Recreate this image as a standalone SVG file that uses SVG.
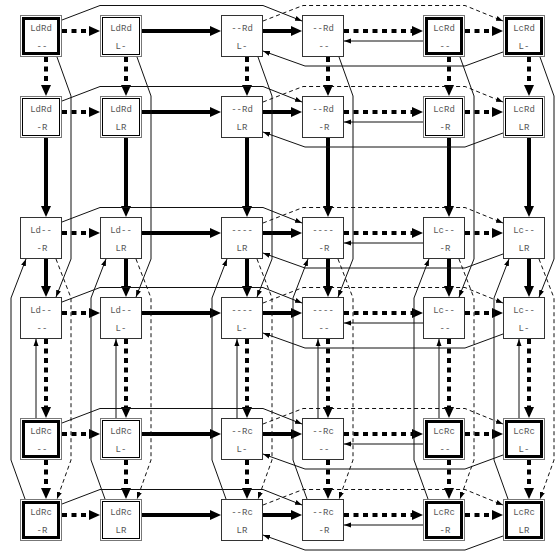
<svg xmlns="http://www.w3.org/2000/svg" width="560" height="551" viewBox="0 0 560 551">
<style>
.bg{fill:#fff}
.s{fill:#fff;stroke:#333;stroke-width:1}
.o{fill:#fff;stroke:#777;stroke-width:1}
.i1{fill:none;stroke:#000;stroke-width:1}
.i3{fill:none;stroke:#000;stroke-width:3}
.t{font-family:"Liberation Mono","Courier New",monospace;font-size:9px;fill:#555;text-anchor:middle}
.th{fill:none;stroke:#000;stroke-width:4;marker-end:url(#ah)}
.dt{fill:none;stroke:#000;stroke-width:4;stroke-dasharray:5 4.5;marker-end:url(#ah)}
.ln{fill:none;stroke:#111;stroke-width:1;marker-end:url(#as)}
.ds{fill:none;stroke:#111;stroke-width:1;stroke-dasharray:4 3;marker-end:url(#as)}
</style>
<defs>
<marker id="ah" markerUnits="userSpaceOnUse" markerWidth="11" markerHeight="10" refX="0" refY="5" orient="auto"><path d="M0,0 L11,5 L0,10 z" fill="#000"/></marker>
<marker id="as" markerUnits="userSpaceOnUse" markerWidth="7" markerHeight="6" refX="7" refY="3" orient="auto"><path d="M0,0.5 L7,3 L0,5.5 z" fill="#000"/></marker>
</defs>
<rect class="bg" x="0" y="0" width="560" height="551"/>
<g id="connectors">
<path class="dt" d="M62,31 H89"/><path class="th" d="M142,31 H210"/><path class="th" d="M263,31 H291"/><path class="dt" d="M344,31 H412"/><path class="dt" d="M465,31 H492"/>
<path class="dt" d="M62,112 H89"/><path class="th" d="M142,112 H210"/><path class="th" d="M263,112 H291"/><path class="dt" d="M344,112 H412"/><path class="dt" d="M465,112 H492"/>
<path class="dt" d="M62,233 H89"/><path class="th" d="M142,233 H210"/><path class="th" d="M263,233 H291"/><path class="dt" d="M344,233 H412"/><path class="dt" d="M465,233 H492"/>
<path class="dt" d="M62,313 H89"/><path class="th" d="M142,313 H210"/><path class="th" d="M263,313 H291"/><path class="dt" d="M344,313 H412"/><path class="dt" d="M465,313 H492"/>
<path class="dt" d="M62,434 H89"/><path class="th" d="M142,434 H210"/><path class="th" d="M263,434 H291"/><path class="dt" d="M344,434 H412"/><path class="dt" d="M465,434 H492"/>
<path class="dt" d="M62,515 H89"/><path class="th" d="M142,515 H210"/><path class="th" d="M263,515 H291"/><path class="dt" d="M344,515 H412"/><path class="dt" d="M465,515 H492"/>
<path class="dt" d="M46,57 V85"/><path class="th" d="M46,138 V206"/><path class="th" d="M46,259 V286"/><path class="dt" d="M46,339 V407"/><path class="dt" d="M46,460 V488"/>
<path class="dt" d="M126,57 V85"/><path class="th" d="M126,138 V206"/><path class="th" d="M126,259 V286"/><path class="dt" d="M126,339 V407"/><path class="dt" d="M126,460 V488"/>
<path class="dt" d="M247,57 V85"/><path class="th" d="M247,138 V206"/><path class="th" d="M247,259 V286"/><path class="dt" d="M247,339 V407"/><path class="dt" d="M247,460 V488"/>
<path class="dt" d="M328,57 V85"/><path class="th" d="M328,138 V206"/><path class="th" d="M328,259 V286"/><path class="dt" d="M328,339 V407"/><path class="dt" d="M328,460 V488"/>
<path class="dt" d="M449,57 V85"/><path class="th" d="M449,138 V206"/><path class="th" d="M449,259 V286"/><path class="dt" d="M449,339 V407"/><path class="dt" d="M449,460 V488"/>
<path class="dt" d="M529,57 V85"/><path class="th" d="M529,138 V206"/><path class="th" d="M529,259 V286"/><path class="dt" d="M529,339 V407"/><path class="dt" d="M529,460 V488"/>
<path class="ln" d="M423,41 H344"/><path class="ln" d="M423,122 H344"/><path class="ln" d="M423,243 H344"/><path class="ln" d="M423,323 H344"/><path class="ln" d="M423,444 H344"/><path class="ln" d="M423,525 H344"/>
<path class="ln" d="M36,418 V339"/><path class="ln" d="M116,418 V339"/><path class="ln" d="M237,418 V339"/><path class="ln" d="M318,418 V339"/><path class="ln" d="M439,418 V339"/><path class="ln" d="M519,418 V339"/>
<path class="ln" d="M62,20 L100,5.5 L263,5.5 L302,21"/>
<path class="ln" d="M62,101 L100,86.5 L263,86.5 L302,102"/>
<path class="ln" d="M62,222 L100,207.5 L263,207.5 L302,223"/>
<path class="ln" d="M62,302 L100,287.5 L263,287.5 L302,303"/>
<path class="ln" d="M62,423 L100,408.5 L263,408.5 L302,424"/>
<path class="ln" d="M62,504 L100,489.5 L263,489.5 L302,505"/>
<path class="ds" d="M263,21 L303,5.5 L465,5.5 L503,21"/>
<path class="ds" d="M263,102 L303,86.5 L465,86.5 L503,102"/>
<path class="ds" d="M263,223 L303,207.5 L465,207.5 L503,223"/>
<path class="ds" d="M263,303 L303,287.5 L465,287.5 L503,303"/>
<path class="ds" d="M263,424 L303,408.5 L465,408.5 L503,424"/>
<path class="ds" d="M263,505 L303,489.5 L465,489.5 L503,505"/>
<path class="ln" d="M503,52 L465,66 L305,66 L263,51"/>
<path class="ln" d="M503,133 L465,147 L305,147 L263,132"/>
<path class="ln" d="M503,254 L465,268 L305,268 L263,253"/>
<path class="ln" d="M503,334 L465,348 L305,348 L263,333"/>
<path class="ln" d="M503,455 L465,469 L305,469 L263,454"/>
<path class="ln" d="M503,536 L465,550 L305,550 L263,535"/>
<path class="ln" d="M57,57 L71,96 L71,259 L56,297"/>
<path class="ln" d="M137,57 L151,96 L151,259 L136,297"/>
<path class="ln" d="M258,57 L272,96 L272,259 L257,297"/>
<path class="ln" d="M339,57 L353,96 L353,259 L338,297"/>
<path class="ln" d="M460,57 L474,96 L474,259 L459,297"/>
<path class="ln" d="M540,57 L554,96 L554,259 L539,297"/>
<path class="ds" d="M56,259 L71,298 L71,460 L57,499"/>
<path class="ds" d="M136,259 L151,298 L151,460 L137,499"/>
<path class="ds" d="M257,259 L272,298 L272,460 L258,499"/>
<path class="ds" d="M338,259 L353,298 L353,460 L339,499"/>
<path class="ds" d="M459,259 L474,298 L474,460 L460,499"/>
<path class="ds" d="M539,259 L554,298 L554,460 L540,499"/>
<path class="ln" d="M25,499 L11,460 L11,298 L26,259"/>
<path class="ln" d="M105,499 L91,460 L91,298 L106,259"/>
<path class="ln" d="M226,499 L212,460 L212,298 L227,259"/>
<path class="ln" d="M307,499 L293,460 L293,298 L308,259"/>
<path class="ln" d="M428,499 L414,460 L414,298 L429,259"/>
<path class="ln" d="M508,499 L494,460 L494,298 L509,259"/>
</g>
<g id="n00"><rect class="o" x="20.5" y="15.5" width="41" height="41"/><rect class="i3" x="23.5" y="18.5" width="35" height="35"/><text class="t" x="41" y="31">LdRd</text><text class="t" x="42" y="49">--</text></g>
<g id="n01"><rect class="o" x="100.5" y="15.5" width="41" height="41"/><rect class="i1" x="102.5" y="17.5" width="37" height="37"/><text class="t" x="121" y="31">LdRd</text><text class="t" x="121" y="49">L-</text></g>
<g id="n02"><rect class="s" x="221.5" y="15.5" width="41" height="41"/><text class="t" x="242" y="31">--Rd</text><text class="t" x="242" y="49">L-</text></g>
<g id="n03"><rect class="s" x="302.5" y="15.5" width="41" height="41"/><text class="t" x="323" y="31">--Rd</text><text class="t" x="324" y="49">--</text></g>
<g id="n04"><rect class="o" x="423.5" y="15.5" width="41" height="41"/><rect class="i3" x="426.5" y="18.5" width="35" height="35"/><text class="t" x="444" y="31">LcRd</text><text class="t" x="445" y="49">--</text></g>
<g id="n05"><rect class="o" x="503.5" y="15.5" width="41" height="41"/><rect class="i3" x="506.5" y="18.5" width="35" height="35"/><text class="t" x="524" y="31">LcRd</text><text class="t" x="524" y="49">L-</text></g>
<g id="n10"><rect class="o" x="20.5" y="96.5" width="41" height="41"/><rect class="i1" x="22.5" y="98.5" width="37" height="37"/><text class="t" x="41" y="112">LdRd</text><text class="t" x="42" y="130">-R</text></g>
<g id="n11"><rect class="o" x="100.5" y="96.5" width="41" height="41"/><rect class="i1" x="102.5" y="98.5" width="37" height="37"/><text class="t" x="121" y="112">LdRd</text><text class="t" x="121" y="130">LR</text></g>
<g id="n12"><rect class="s" x="221.5" y="96.5" width="41" height="41"/><text class="t" x="242" y="112">--Rd</text><text class="t" x="242" y="130">LR</text></g>
<g id="n13"><rect class="s" x="302.5" y="96.5" width="41" height="41"/><text class="t" x="323" y="112">--Rd</text><text class="t" x="324" y="130">-R</text></g>
<g id="n14"><rect class="o" x="423.5" y="96.5" width="41" height="41"/><rect class="i1" x="425.5" y="98.5" width="37" height="37"/><text class="t" x="444" y="112">LcRd</text><text class="t" x="445" y="130">-R</text></g>
<g id="n15"><rect class="o" x="503.5" y="96.5" width="41" height="41"/><rect class="i1" x="505.5" y="98.5" width="37" height="37"/><text class="t" x="524" y="112">LcRd</text><text class="t" x="524" y="130">LR</text></g>
<g id="n20"><rect class="s" x="20.5" y="217.5" width="41" height="41"/><text class="t" x="41" y="233">Ld--</text><text class="t" x="42" y="251">-R</text></g>
<g id="n21"><rect class="s" x="100.5" y="217.5" width="41" height="41"/><text class="t" x="121" y="233">Ld--</text><text class="t" x="121" y="251">LR</text></g>
<g id="n22"><rect class="s" x="221.5" y="217.5" width="41" height="41"/><text class="t" x="242" y="233">----</text><text class="t" x="242" y="251">LR</text></g>
<g id="n23"><rect class="s" x="302.5" y="217.5" width="41" height="41"/><text class="t" x="323" y="233">----</text><text class="t" x="324" y="251">-R</text></g>
<g id="n24"><rect class="s" x="423.5" y="217.5" width="41" height="41"/><text class="t" x="444" y="233">Lc--</text><text class="t" x="445" y="251">-R</text></g>
<g id="n25"><rect class="s" x="503.5" y="217.5" width="41" height="41"/><text class="t" x="524" y="233">Lc--</text><text class="t" x="524" y="251">LR</text></g>
<g id="n30"><rect class="s" x="20.5" y="297.5" width="41" height="41"/><text class="t" x="41" y="313">Ld--</text><text class="t" x="42" y="331">--</text></g>
<g id="n31"><rect class="s" x="100.5" y="297.5" width="41" height="41"/><text class="t" x="121" y="313">Ld--</text><text class="t" x="121" y="331">L-</text></g>
<g id="n32"><rect class="s" x="221.5" y="297.5" width="41" height="41"/><text class="t" x="242" y="313">----</text><text class="t" x="242" y="331">L-</text></g>
<g id="n33"><rect class="s" x="302.5" y="297.5" width="41" height="41"/><text class="t" x="323" y="313">----</text><text class="t" x="324" y="331">--</text></g>
<g id="n34"><rect class="s" x="423.5" y="297.5" width="41" height="41"/><text class="t" x="444" y="313">Lc--</text><text class="t" x="445" y="331">--</text></g>
<g id="n35"><rect class="s" x="503.5" y="297.5" width="41" height="41"/><text class="t" x="524" y="313">Lc--</text><text class="t" x="524" y="331">L-</text></g>
<g id="n40"><rect class="o" x="20.5" y="418.5" width="41" height="41"/><rect class="i3" x="23.5" y="421.5" width="35" height="35"/><text class="t" x="41" y="434">LdRc</text><text class="t" x="42" y="452">--</text></g>
<g id="n41"><rect class="o" x="100.5" y="418.5" width="41" height="41"/><rect class="i1" x="102.5" y="420.5" width="37" height="37"/><text class="t" x="121" y="434">LdRc</text><text class="t" x="121" y="452">L-</text></g>
<g id="n42"><rect class="s" x="221.5" y="418.5" width="41" height="41"/><text class="t" x="242" y="434">--Rc</text><text class="t" x="242" y="452">L-</text></g>
<g id="n43"><rect class="s" x="302.5" y="418.5" width="41" height="41"/><text class="t" x="323" y="434">--Rc</text><text class="t" x="324" y="452">--</text></g>
<g id="n44"><rect class="o" x="423.5" y="418.5" width="41" height="41"/><rect class="i3" x="426.5" y="421.5" width="35" height="35"/><text class="t" x="444" y="434">LcRc</text><text class="t" x="445" y="452">--</text></g>
<g id="n45"><rect class="o" x="503.5" y="418.5" width="41" height="41"/><rect class="i3" x="506.5" y="421.5" width="35" height="35"/><text class="t" x="524" y="434">LcRc</text><text class="t" x="524" y="452">L-</text></g>
<g id="n50"><rect class="o" x="20.5" y="499.5" width="41" height="41"/><rect class="i3" x="23.5" y="502.5" width="35" height="35"/><text class="t" x="41" y="515">LdRc</text><text class="t" x="42" y="533">-R</text></g>
<g id="n51"><rect class="o" x="100.5" y="499.5" width="41" height="41"/><rect class="i1" x="102.5" y="501.5" width="37" height="37"/><text class="t" x="121" y="515">LdRc</text><text class="t" x="121" y="533">LR</text></g>
<g id="n52"><rect class="s" x="221.5" y="499.5" width="41" height="41"/><text class="t" x="242" y="515">--Rc</text><text class="t" x="242" y="533">LR</text></g>
<g id="n53"><rect class="s" x="302.5" y="499.5" width="41" height="41"/><text class="t" x="323" y="515">--Rc</text><text class="t" x="324" y="533">-R</text></g>
<g id="n54"><rect class="o" x="423.5" y="499.5" width="41" height="41"/><rect class="i3" x="426.5" y="502.5" width="35" height="35"/><text class="t" x="444" y="515">LcRc</text><text class="t" x="445" y="533">-R</text></g>
<g id="n55"><rect class="o" x="503.5" y="499.5" width="41" height="41"/><rect class="i3" x="506.5" y="502.5" width="35" height="35"/><text class="t" x="524" y="515">LcRc</text><text class="t" x="524" y="533">LR</text></g>
</svg>
